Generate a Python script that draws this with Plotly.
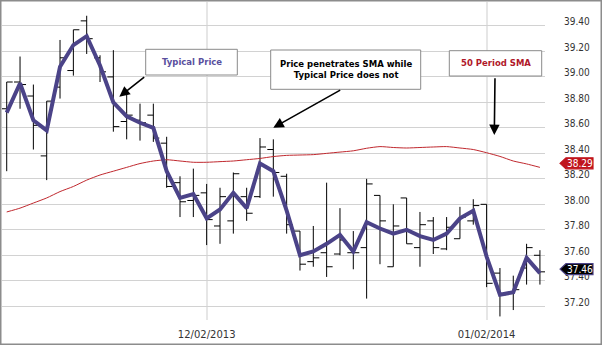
import plotly.graph_objects as go

# Trading sessions shown on the chart
dates = [
    "11/08/2013", "11/11/2013", "11/12/2013", "11/13/2013", "11/14/2013", "11/15/2013",
    "11/18/2013", "11/19/2013", "11/20/2013", "11/21/2013", "11/22/2013",
    "11/25/2013", "11/26/2013", "11/27/2013", "11/29/2013",
    "12/02/2013", "12/03/2013", "12/04/2013", "12/05/2013", "12/06/2013",
    "12/09/2013", "12/10/2013", "12/11/2013", "12/12/2013", "12/13/2013",
    "12/16/2013", "12/17/2013", "12/18/2013", "12/19/2013", "12/20/2013",
    "12/23/2013", "12/24/2013", "12/26/2013", "12/27/2013", "12/30/2013", "12/31/2013",
    "01/02/2014", "01/03/2014", "01/06/2014", "01/07/2014", "01/08/2014",
]

open_ = [38.75, 38.96, 38.85, 38.38, 38.92, 39.05, 39.44, 39.15, 39.00, 38.65,
         38.66, 38.70, 38.48, 38.17, 38.03, 38.09, 37.83, 37.87, 38.06, 38.06,
         38.43, 38.22, 37.79, 37.55, 37.62, 37.61, 37.62, 37.66, 38.07, 37.51,
         38.05, 37.66, 37.87, 37.65, 37.73, 37.87, 38.00, 37.46, 37.30, 37.50, 37.60]
high = [38.96, 39.16, 38.94, 38.81, 39.29, 39.37, 39.48, 39.17, 39.21, 38.88,
        38.79, 38.79, 38.53, 38.22, 38.28, 38.16, 38.13, 38.25, 38.13, 38.52,
        38.51, 38.24, 37.79, 37.83, 38.17, 37.97, 37.79, 38.20, 38.07, 38.00,
        38.05, 37.94, 37.90, 37.90, 37.98, 38.04, 38.00, 37.50, 37.44, 37.69, 37.64]
low = [38.26, 38.75, 38.43, 38.19, 38.83, 39.01, 39.18, 38.96, 38.57, 38.51,
       38.50, 38.49, 38.13, 37.90, 37.90, 37.68, 37.69, 37.77, 37.87, 38.05,
       38.06, 37.77, 37.48, 37.51, 37.43, 37.60, 37.49, 37.26, 37.53, 37.51,
       37.69, 37.51, 37.61, 37.64, 37.73, 37.84, 37.35, 37.12, 37.17, 37.37, 37.37]
close = [38.96, 38.94, 38.62, 38.81, 39.15, 39.37, 39.30, 39.04, 38.61, 38.70,
         38.64, 38.52, 38.14, 38.02, 38.07, 37.88, 38.06, 38.24, 37.93, 38.45,
         38.25, 37.84, 37.53, 37.58, 37.51, 37.72, 37.62, 38.16, 37.87, 37.83,
         37.69, 37.84, 37.66, 37.82, 37.90, 37.99, 37.38, 37.29, 37.33, 37.66, 37.47]

typical_price = [38.72, 38.95, 38.66, 38.58, 39.08, 39.25, 39.32, 39.09, 38.80, 38.69,
                 38.64, 38.60, 38.26, 38.05, 38.08, 37.89, 37.96, 38.09, 37.97, 38.32,
                 38.26, 37.95, 37.60, 37.63, 37.69, 37.76, 37.63, 37.86, 37.81, 37.77,
                 37.80, 37.75, 37.72, 37.77, 37.89, 37.95, 37.59, 37.29, 37.31, 37.58, 37.46]

sma_50 = [37.94, 37.97, 38.01, 38.05, 38.10, 38.14, 38.19, 38.23, 38.26, 38.29,
          38.32, 38.34, 38.35, 38.34, 38.33, 38.33, 38.335, 38.34, 38.35, 38.36,
          38.375, 38.384, 38.387, 38.39, 38.40, 38.41, 38.42, 38.44, 38.453, 38.446,
          38.442, 38.446, 38.45, 38.453, 38.442, 38.43, 38.405, 38.376, 38.34, 38.317, 38.29]

y_ticks = [37.20, 37.40, 37.60, 37.80, 38.00, 38.20, 38.40, 38.60, 38.80, 39.00, 39.20, 39.40]
x_ticks = ["12/02/2013", "01/02/2014"]

TP_COLOR = "#4b4388"
SMA_COLOR = "#c0282e"

W, H = 602, 345
ML, MR, MT, MB = 2, 57, 2, 25
PW, PH = W - ML - MR, H - MT - MB


def px_x(px):
    return (px - ML) / PW


def px_y(py):
    return (H - MB - py) / PH


fig = go.Figure()

fig.add_trace(go.Ohlc(
    x=dates, open=open_, high=high, low=low, close=close,
    increasing=dict(line=dict(color="black", width=1)),
    decreasing=dict(line=dict(color="black", width=1)),
    tickwidth=0.45, hoverinfo="skip", showlegend=False,
))

fig.add_trace(go.Scatter(
    x=dates, y=sma_50, mode="lines",
    line=dict(color=SMA_COLOR, width=1, shape="spline", smoothing=0.6),
    hoverinfo="skip", showlegend=False,
))

fig.add_trace(go.Scatter(
    x=dates, y=typical_price, mode="lines",
    line=dict(color=TP_COLOR, width=4),
    hoverinfo="skip", showlegend=False,
))

tick_font = dict(family="DejaVu Sans Condensed, Liberation Sans Narrow, DejaVu Sans", size=10, color="#333333")

fig.update_layout(
    width=W, height=H,
    margin=dict(l=ML, r=MR, t=MT, b=MB),
    paper_bgcolor="white", plot_bgcolor="white",
    showlegend=False,
    xaxis=dict(
        type="category",
        range=[-0.353, 40.38],
        tickmode="array", tickvals=x_ticks, ticktext=x_ticks,
        showgrid=True, gridcolor="#e6e6e6", gridwidth=2,
        zeroline=False, showline=False, ticks="",
        rangeslider=dict(visible=False),
        tickfont=dict(family="DejaVu Sans", size=10, color="#333333"),
        ticklabelstandoff=7,
    ),
    yaxis=dict(
        side="right",
        range=[37.092, 39.588],
        tickmode="array", tickvals=y_ticks,
        ticktext=[f"{v:.2f}" for v in y_ticks],
        showgrid=True, gridcolor="#d2d2d2", gridwidth=1,
        zeroline=False, showline=False, ticks="",
        tickfont=tick_font,
        ticklabelstandoff=18, ticklabelshift=-4,
    ),
)

# outer frame
fig.add_shape(type="rect", xref="paper", yref="paper",
              x0=px_x(0.75), x1=px_x(601.25), y0=px_y(344.25), y1=px_y(0.75),
              line=dict(color="#8c8c8c", width=1.5), fillcolor="rgba(0,0,0,0)", layer="above")


def price_tag(value, fill, edge):
    # pointed tag on the right axis, offsets in pixels from the plot's right edge
    path = "M 15,4 L 21,9.5 L 48,9.5 L 48,-1.5 L 21,-1.5 Z"
    fig.add_shape(type="path", path=path,
                  xref="paper", xsizemode="pixel", xanchor=1,
                  yref="y", ysizemode="pixel", yanchor=value,
                  fillcolor=fill, line=dict(color=edge, width=1.2), layer="above")
    fig.add_annotation(xref="paper", x=1, xshift=34.5, xanchor="center",
                       yref="y", y=value, yshift=4, yanchor="middle",
                       text=f"{value:.2f}", showarrow=False,
                       font=dict(family=tick_font["family"], size=10, color="white"))


price_tag(sma_50[-1], "#c0141c", "#c0141c")
price_tag(typical_price[-1], "black", TP_COLOR)

label_font = "DejaVu Sans"


def callout(text, color, left, top, right, bottom):
    fig.add_shape(type="rect", xref="paper", yref="paper",
                  x0=px_x(left), x1=px_x(right), y0=px_y(bottom), y1=px_y(top),
                  fillcolor="white", line=dict(color="#8a8a8a", width=1), layer="above")
    fig.add_annotation(
        xref="paper", yref="paper",
        x=px_x((left + right) / 2), y=px_y((top + bottom) / 2),
        xanchor="center", yanchor="middle",
        text=text, showarrow=False,
        font=dict(family=label_font, size=8.5, color=color),
        align="center",
    )


def arrow(tail, tip):
    fig.add_annotation(
        xref="paper", yref="paper",
        x=px_x(tip[0]), y=px_y(tip[1]),
        ax=tail[0] - tip[0], ay=tail[1] - tip[1],
        text="", showarrow=True,
        arrowhead=2, arrowsize=1.3, arrowwidth=1.6, arrowcolor="black",
    )


callout("<b>Typical Price</b>", "#5a4f9e", 145.7, 49.3, 237.3, 75)
callout("<b>Price penetrates SMA while<br>Typical Price does not</b>", "black", 270.7, 50, 420.7, 89.3)
callout("<b>50 Period SMA</b>", "#b0182a", 449.3, 50.7, 541.7, 76)

arrow((145.7, 76), (119.3, 96.7))
arrow((341.7, 89.3), (273.3, 127.7))
arrow((495, 76.7), (494.3, 135))

fig.write_html("out.html")
